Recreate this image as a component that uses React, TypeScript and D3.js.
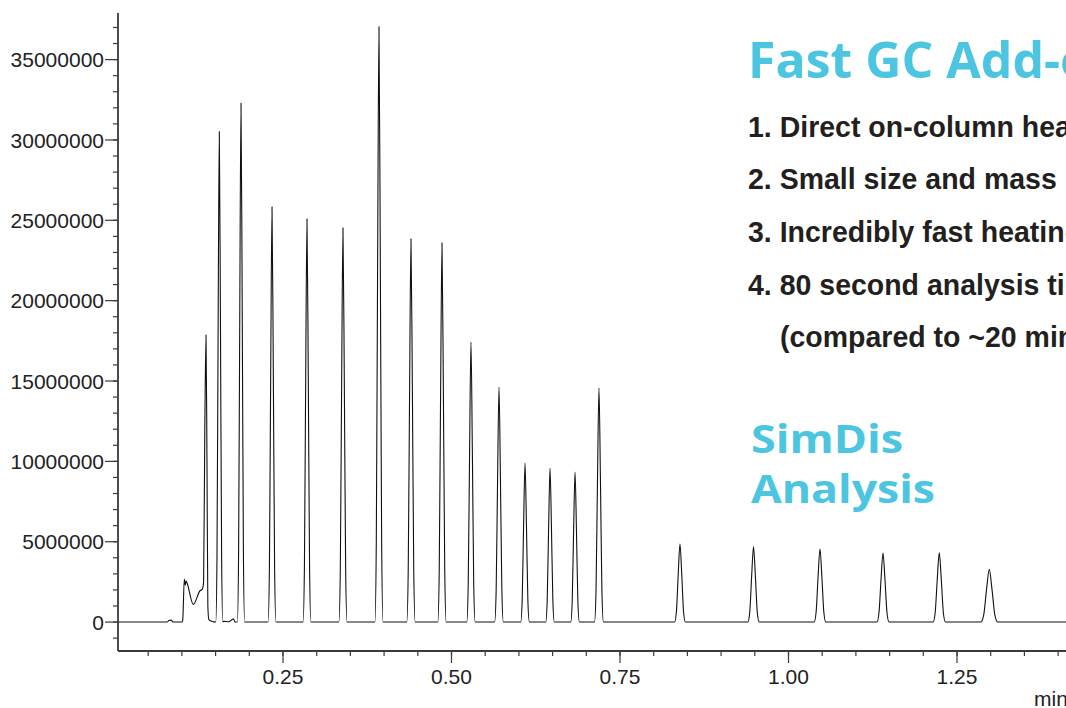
import React from "react";
import * as d3 from "d3";

// ---- Data ----
// Isolated peaks: retention time (min), apex height (counts), half base width (min)
const peakTimes = [0.1555, 0.1877, 0.2337, 0.2856, 0.339, 0.3924, 0.4399, 0.4859, 0.5289, 0.5705, 0.6091, 0.6462, 0.6833, 0.7188, 0.839, 0.9481, 1.0467, 1.1402, 1.2237, 1.2979];
const peakHeights = [30.53e6, 32.3e6, 25.84e6, 25.09e6, 24.53e6, 37.05e6, 23.85e6, 23.6e6, 17.43e6, 14.63e6, 9.9e6, 9.59e6, 9.34e6, 14.57e6, 4.86e6, 4.69e6, 4.55e6, 4.3e6, 4.31e6, 3.28e6];
const peakHalfWidths = [0.0052, 0.0054, 0.0058, 0.0058, 0.006, 0.006, 0.0062, 0.0062, 0.0062, 0.0064, 0.0064, 0.0064, 0.0064, 0.0066, 0.008, 0.0084, 0.0087, 0.009, 0.0092, 0.0125];

// Irregular early section (solvent front + first peak) and small baseline features
const frontTimes = [0.078, 0.081, 0.084, 0.087, 0.1, 0.1012, 0.1036, 0.105, 0.1062, 0.1075, 0.1169, 0.1269, 0.1303, 0.1322, 0.134, 0.1358, 0.1372, 0.1385, 0.14, 0.1442, 0.161, 0.17, 0.174, 0.1763, 0.179];
const frontValues = [0, 0.1e6, 0.12e6, 0, 0, 0.1e6, 2.68e6, 2.3e6, 2.55e6, 2.45e6, 1.1e6, 1.95e6, 2.04e6, 2.5e6, 12e6, 17.87e6, 10e6, 1.0e6, 0.15e6, 0.05e6, 0.05e6, 0.02e6, 0.15e6, 0.2e6, 0];

// Peak profile template (relative offsets and fractions of apex)
const profileOffsets = [-1, -0.66, -0.33, 0, 0.33, 0.66, 1];
const profileFractions = [0, 0.135, 0.61, 1, 0.61, 0.135, 0];

// Axis ticks
const xMajorTicks = [0.25, 0.5, 0.75, 1.0, 1.25];
const xMajorLabels = ["0.25", "0.50", "0.75", "1.00", "1.25"];
const xMinorTicks = d3.range(1, 29).map((i) => i * 0.05);
const yMajorTicks = [0, 5e6, 10e6, 15e6, 20e6, 25e6, 30e6, 35e6];
const yMajorLabels = ["0", "5000000", "10000000", "15000000", "20000000", "25000000", "30000000", "35000000"];
const yMinorTicks = d3.range(-1, 38).map((i) => i * 1e6);

const listLines = [
  "1. Direct on-column heating",
  "2. Small size and mass",
  "3. Incredibly fast heating",
  "4. 80 second analysis time",
  "(compared to ~20 minutes)",
];

const BLUE = "#4cc5e1";
const DARK = "#231f20";

export default function App() {
  const W = 1066;
  const H = 708;
  const xDomain: [number, number] = [0.0052, 1.42];
  const x = d3.scaleLinear().domain(xDomain).range([118, 118 + (xDomain[1] - xDomain[0]) * 674]);
  const y = d3.scaleLinear().domain([-1.8e6, 37.9e6]).range([651, 13]);

  const pts: [number, number][] = [];
  pts.push([xDomain[0], 0]);
  frontTimes.forEach((t, i) => pts.push([t, frontValues[i]]));
  peakTimes.forEach((t, i) => {
    profileOffsets.forEach((o, j) => {
      pts.push([t + o * peakHalfWidths[i], profileFractions[j] * peakHeights[i]]);
    });
  });
  pts.push([xDomain[1], 0]);
  pts.sort((a, b) => a[0] - b[0]);

  const line = d3
    .line<[number, number]>()
    .x((d) => x(d[0]))
    .y((d) => y(d[1]))
    .curve(d3.curveMonotoneX);

  const axisColor = "#3a3a3a";
  const axisFont = "'Liberation Sans', Arial, sans-serif";
  const yAxisX = 118;
  const xAxisY = 651;
  const sx = 0.95;

  const listBaselines = [137, 189.5, 242, 295, 347.5];

  return (
    <svg width={W} height={H} style={{ position: "absolute", left: 0, top: 0, background: "#fff" }}>
      <rect x={0} y={0} width={W} height={H} fill="#fff" />
      {/* trace */}
      <path d={line(pts) || ""} fill="none" stroke="#111" strokeWidth={1.1} strokeLinejoin="round" />

      {/* y axis */}
      <line x1={yAxisX} x2={yAxisX} y1={13} y2={xAxisY} stroke={axisColor} strokeWidth={1.8} />
      {yMinorTicks.map((v) => (
        <line key={"ym" + v} x1={yAxisX - 5} x2={yAxisX} y1={y(v)} y2={y(v)} stroke={axisColor} strokeWidth={1.2} />
      ))}
      {yMajorTicks.map((v, i) => (
        <g key={"yM" + v}>
          <line x1={yAxisX - 13} x2={yAxisX} y1={y(v)} y2={y(v)} stroke={axisColor} strokeWidth={1.2} />
          <text x={104} y={y(v)} dy="0.36em" textAnchor="end" fontFamily={axisFont} fontSize={21} fill="#222">
            {yMajorLabels[i]}
          </text>
        </g>
      ))}

      {/* x axis */}
      <line x1={yAxisX} x2={W} y1={xAxisY} y2={xAxisY} stroke={axisColor} strokeWidth={1.8} />
      {xMinorTicks.map((v) => (
        <line key={"xm" + v} x1={x(v)} x2={x(v)} y1={xAxisY} y2={xAxisY + 5} stroke={axisColor} strokeWidth={1.2} />
      ))}
      {xMajorTicks.map((v, i) => (
        <g key={"xM" + v}>
          <line x1={x(v)} x2={x(v)} y1={xAxisY} y2={xAxisY + 12} stroke={axisColor} strokeWidth={1.2} />
          <text x={x(v)} y={684} textAnchor="middle" fontFamily={axisFont} fontSize={21} fill="#222">
            {xMajorLabels[i]}
          </text>
        </g>
      ))}
      <text x={1034} y={706} fontFamily={axisFont} fontSize={21} fill="#222">
        min
      </text>

      {/* annotations */}
      <text x={748} y={78} fontFamily="'Open Sans', sans-serif" fontWeight={700} fontSize={50} fill={BLUE}>
        Fast GC Add-on
      </text>
      <g transform={`translate(748,0) scale(${sx},1)`}>
        {listLines.map((s, i) => (
          <text
            key={s}
            x={i === 4 ? (780 - 748) / sx : 0}
            y={listBaselines[i]}
            fontFamily="'Liberation Sans', Arial, sans-serif"
            fontWeight={700}
            fontSize={30}
            fill={DARK}
          >
            {s}
          </text>
        ))}
      </g>
      <text x={751} y={453} fontFamily="'Open Sans', sans-serif" fontWeight={700} fontSize={40} fill={BLUE} textLength={152} lengthAdjust="spacingAndGlyphs">
        SimDis
      </text>
      <text x={751} y={503} fontFamily="'Open Sans', sans-serif" fontWeight={700} fontSize={40} fill={BLUE} textLength={184} lengthAdjust="spacingAndGlyphs">
        Analysis
      </text>
    </svg>
  );
}
